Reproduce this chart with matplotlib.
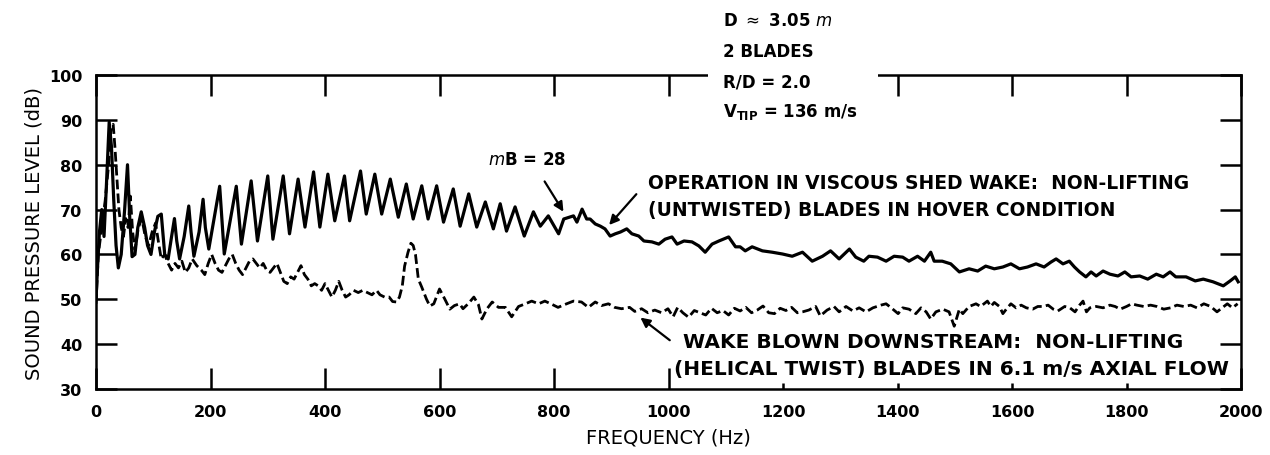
import matplotlib
matplotlib.use("Agg")
import matplotlib.pyplot as plt
from matplotlib.patches import Rectangle

# solid curve: operation in viscous shed wake (hover)
hover_f = [0, 3, 6, 10, 14, 18, 23, 27, 31, 35, 39, 44, 50, 55, 59, 63, 68, 73, 79, 85,
           90, 96, 102, 108, 114, 120, 126, 132, 137, 141, 146, 154, 162, 166, 171, 180,
           187, 191, 197, 216, 224, 245, 254, 271, 282, 300, 309, 327, 338, 353, 365,
           380, 391, 405, 417, 434, 443, 462, 472, 487, 499, 514, 528, 542, 554, 569,
           580, 595, 607, 624, 636, 651, 665, 680, 694, 706, 717, 732, 748, 764, 776,
           790, 808, 817, 834, 840, 849, 857, 863, 872, 881, 889, 898, 907, 916, 927,
           936, 948, 957, 971, 983, 994, 1006, 1015, 1027, 1041, 1053, 1064, 1076, 1088,
           1105, 1117, 1125, 1134, 1146, 1164, 1181, 1199, 1216, 1234, 1251, 1269, 1283,
           1298, 1316, 1327, 1341, 1350, 1365, 1380, 1394, 1409, 1420, 1435, 1447, 1458,
           1464, 1478, 1493, 1508, 1525, 1540, 1554, 1569, 1584, 1598, 1613, 1627, 1642,
           1656, 1668, 1677, 1689, 1700, 1709, 1718, 1729, 1738, 1747, 1759, 1771, 1785,
           1797, 1808, 1823, 1837, 1852, 1864, 1876, 1886, 1904, 1920, 1934, 1951, 1969,
           1981, 1990, 1995]
hover_db = [50, 58, 65, 70, 64, 75, 89.5, 84, 72, 62, 57, 60, 70, 80, 68, 59.5, 60, 66, 69.5, 66,
            62, 60, 65, 68.5, 69, 60, 59, 64, 68, 63, 59, 64, 70.8, 65, 59.6, 65,
            72.3, 66, 61.2, 75.2, 60.1, 75.2, 62.3, 76.4, 63, 77.5, 63.4, 77.5, 64.6, 76.8, 66.1,
            78.4, 66.1, 77.9, 67.5, 77.5, 67.5, 78.6, 69, 77.9, 69, 76.8, 68.3, 75.7, 67.9, 75.3,
            67.9, 75.3, 67.2, 74.6, 66.3, 73.5, 66.1, 71.7, 65.7, 71.3, 65.2, 70.6, 64.1, 69.5, 66.3,
            68.6, 64.6, 67.9, 68.6, 67.2, 70.1, 67.9, 67.9, 66.8, 66.3, 65.7, 64.1, 64.6, 65, 65.7,
            64.6, 64.1, 63, 62.8, 62.3, 63.4, 63.9, 62.3, 63, 62.8, 61.9, 60.5, 62.3, 63,
            63.9, 61.7, 61.7, 60.8, 61.7, 60.8, 60.5, 60.1, 59.6, 60.5, 58.5, 59.6, 60.8,
            59, 61.2, 59.4, 58.5, 59.6, 59.4, 58.5, 59.6, 59.4, 58.5, 59.6, 58.5, 60.5,
            58.5, 58.5, 57.9, 56.1, 56.8, 56.3, 57.4, 56.8, 57.2, 57.9, 56.8, 57.2, 57.9,
            57.2, 58.3, 59, 57.9, 58.5, 57.2, 56.1, 55, 56.1, 55.2, 56.3, 55.6, 55.2,
            56.1, 55, 55.2, 54.5, 55.6, 55, 56.1, 55, 55, 54.1, 54.5, 53.9, 53,
            54.1, 55, 53.9]

# dashed curve: wake blown downstream (axial flow)
axial_f = [0, 4, 10, 16, 22, 26, 30, 33, 36, 40, 44, 48, 52, 56, 60, 64, 68, 74, 80, 86,
           92, 98, 104, 110, 114, 120, 126, 132, 138, 144, 150, 156, 162, 168, 176, 184,
           190, 196, 202, 208, 214, 220, 226, 232, 238, 244, 250, 256, 262, 268, 274, 280,
           286, 292, 298, 304, 310, 316, 322, 328, 334, 340, 346, 352, 358, 364, 370, 376,
           382, 388, 394, 400, 406, 412, 418, 424, 430, 436, 442, 450, 458, 466, 474, 482,
           490, 496, 504, 512, 518, 525, 530, 535, 539, 545, 550, 554, 558, 563, 569, 577,
           583, 590, 600, 609, 618, 626, 635, 641, 650, 660, 668, 674, 683, 692, 703, 715,
           726, 738, 750, 761, 773, 784, 796, 807, 822, 834, 848, 860, 872, 883, 895, 906,
           918, 932, 941, 953, 964, 976, 988, 999, 1008, 1016, 1025, 1035, 1045, 1055, 1065,
           1075, 1085, 1095, 1105, 1115, 1125, 1135, 1145, 1155, 1165, 1175, 1185, 1195,
           1205, 1215, 1225, 1234, 1245, 1257, 1265, 1277, 1289, 1298, 1310, 1322, 1333,
           1345, 1357, 1371, 1380, 1389, 1401, 1409, 1420, 1432, 1441, 1450, 1458, 1467,
           1479, 1490, 1499, 1508, 1514, 1525, 1537, 1545, 1557, 1563, 1569, 1578, 1584,
           1590, 1598, 1607, 1616, 1625, 1636, 1645, 1654, 1663, 1672, 1680, 1692, 1701,
           1710, 1718, 1724, 1730, 1736, 1747, 1759, 1771, 1780, 1789, 1800, 1809, 1818,
           1830, 1842, 1853, 1865, 1877, 1888, 1900, 1912, 1923, 1935, 1947, 1958, 1967,
           1976, 1985, 1994]
axial_db = [49, 60, 66, 72, 80, 88, 89, 84, 78, 70, 66, 64, 68, 66, 73, 65, 61, 66, 68, 64,
            62, 65, 67, 62, 59, 60, 58, 56.5, 58, 57, 58.5, 56, 57, 59, 57.5, 56.5,
            55.5, 58, 60, 58, 56.5, 56, 57.5, 59, 60, 58, 56.5, 55.5, 57, 58.5, 59, 58,
            57, 58, 56.5, 56, 57, 58, 56, 54, 53.5, 55, 54.5, 56, 57.5, 55.5, 54.5, 53,
            53.5, 53, 52, 53.5, 52, 50.5, 52, 54, 52, 50.5, 51, 52, 51.5, 52, 51.5, 51,
            52, 51, 50.5, 50.5, 49.5, 49.4, 50.5, 53, 57.4, 60.5, 62.5, 62, 60, 54.5, 52.7, 50.1,
            48.5, 49, 52.3, 50.1, 47.8, 48.6, 49, 47.9, 49, 50.5, 48.8, 45.6, 47.9, 49.4, 48.2, 48.2,
            46.1, 48.4, 49, 49.6, 49, 49.6, 48.9, 48.2, 49, 49.6, 49.4, 48.2, 49.4, 48.6, 49, 48.2,
            47.9, 48.2, 47.3, 47.9, 47, 47.6, 47, 47.9, 46.1, 48.2, 47, 46, 47.5, 47, 46.5,
            48, 47, 47.5, 46.5, 48, 47.4, 48.2, 47, 47.6, 48.5, 47, 46.8, 48,
            47.5, 48.2, 47, 47.2, 47.6, 48.4, 46.3, 47.6, 48.4, 47.2, 48.4, 47.4, 48.1,
            47.2, 48.1, 48.7, 49, 48.1, 46.8, 48.1, 47.8, 46.8, 48.1, 47.2, 45.6, 47.2,
            47.8, 47.2, 44, 47.8, 46.8, 48.4, 49, 48.4, 49.6, 48.4, 49.3, 48.4, 46.8,
            47.8, 49, 48.1, 48.7, 48.1, 47.8, 48.4, 48.4, 48.7, 47.8, 47.4, 48.4, 48.1,
            47.2, 48.7, 49.6, 47.2, 48.1, 48.4, 48.1, 48.7, 48.4, 47.8, 48.4, 49, 48.7,
            48.4, 48.7, 48.4, 47.8, 48.1, 48.7, 48.4, 48.7, 48.1, 49, 48.4, 47.2, 48.1,
            49, 48.1, 49]

x_ticks = [0, 200, 400, 600, 800, 1000, 1200, 1400, 1600, 1800, 2000]
y_ticks = [30, 40, 50, 60, 70, 80, 90, 100]

plt.rcParams['font.family'] = 'DejaVu Sans'

fig = plt.figure(figsize=(12.7, 4.56), dpi=100)
ax = fig.add_axes([0.0756, 0.1447, 0.9016, 0.6886])

ax.plot(hover_f, hover_db, color='black', lw=2.3, solid_joinstyle='round')
ax.plot(axial_f, axial_db, color='black', lw=2.0, linestyle=(0, (3.5, 1.5)))

ax.set_xlim(0, 2000)
ax.set_ylim(30, 100)
ax.set_xticks(x_ticks)
ax.set_yticks(y_ticks)
ax.tick_params(direction='in', length=15, width=1.8, top=True, right=True,
               labelsize=11.5, colors='black')
ax.tick_params(axis='x', pad=11)
ax.tick_params(axis='y', pad=10)
for lab in ax.get_xticklabels() + ax.get_yticklabels():
    lab.set_fontweight('bold')
for s in ax.spines.values():
    s.set_linewidth(1.8)
# bottom ticks past 1000 Hz are short in the original
for t in ax.xaxis.get_major_ticks()[6:10]:
    t.tick1line.set_markersize(4)

ax.set_xlabel("FREQUENCY (Hz)", fontsize=14, labelpad=6)
ax.set_ylabel("SOUND PRESSURE LEVEL (dB)", fontsize=14, labelpad=4)

# annotations
arrow = dict(arrowstyle='-|>', color='black', lw=1.6, mutation_scale=14)
ax.text(753, 81.3, r"$m$B = 28", ha='center', va='center', fontsize=12, fontweight='bold')
ax.annotate('', xy=(819, 69.0), xytext=(781, 76.8), arrowprops=arrow)
ax.text(964, 76.1, "OPERATION IN VISCOUS SHED WAKE:  NON-LIFTING",
        fontsize=13.5, fontweight='bold', va='center')
ax.text(964, 70.1, "(UNTWISTED) BLADES IN HOVER CONDITION",
        fontsize=13.5, fontweight='bold', va='center')
ax.annotate('', xy=(893, 66.1), xytext=(947, 73.9), arrowprops=arrow)
ax.text(1025, 40.7, "WAKE BLOWN DOWNSTREAM:  NON-LIFTING",
        fontsize=14.5, fontweight='bold', va='center')
ax.text(1010, 34.5, "(HELICAL TWIST) BLADES IN 6.1 m/s AXIAL FLOW",
        fontsize=14.5, fontweight='bold', va='center')
ax.annotate('', xy=(947, 46.3), xytext=(1006, 40.5), arrowprops=arrow)

# parameter block breaks the top frame
fig.add_artist(Rectangle((708 / 1270, 1 - 100 / 456), 170 / 1270, 34 / 456,
                         transform=fig.transFigure, facecolor='white',
                         edgecolor='none', zorder=5))
ptxt = dict(fontsize=12, fontweight='bold', va='center', ha='left', zorder=6)
fig.text(0.569, 0.954, r"D $\approx$ 3.05 $m$", **ptxt)
fig.text(0.569, 0.886, "2 BLADES", **ptxt)
fig.text(0.569, 0.820, "R/D = 2.0", **ptxt)
fig.text(0.569, 0.754, r"V$_{\mathbf{TIP}}$ = 136 m/s", **ptxt)

fig.savefig("out.png", dpi=100)
